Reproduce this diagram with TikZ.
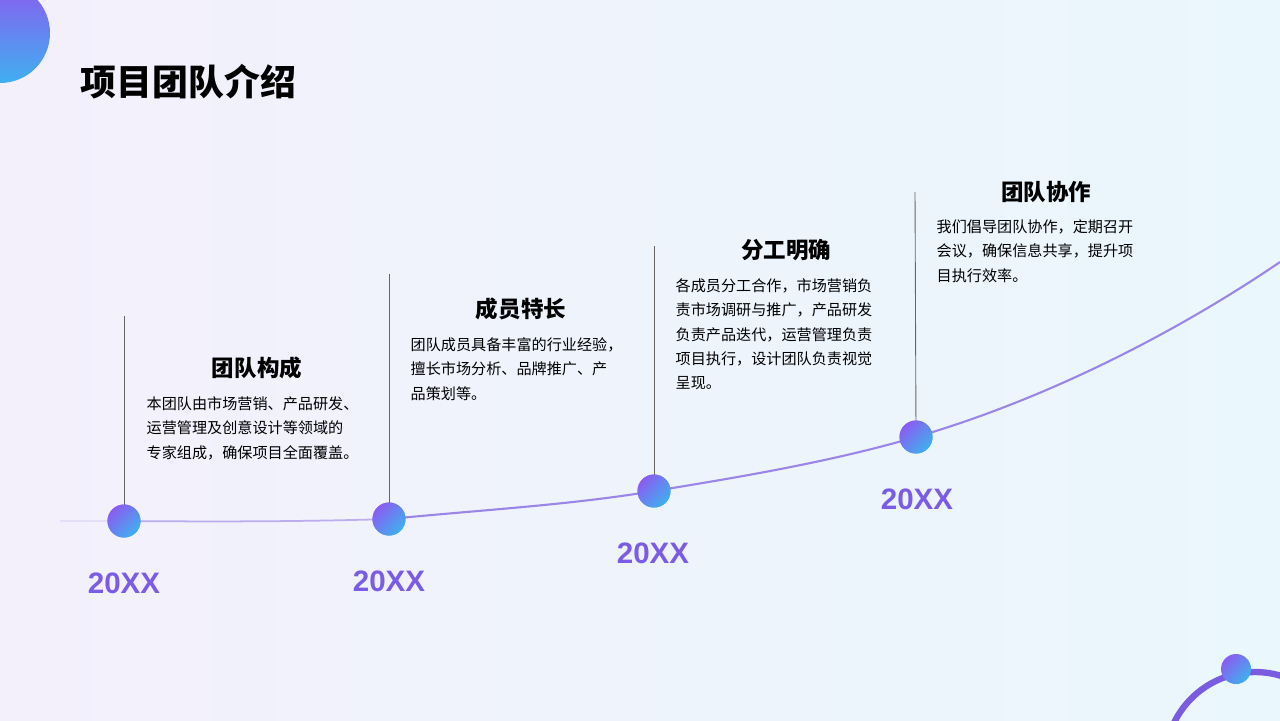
\documentclass[tikz,border=0pt]{standalone}
\usepackage{fontspec}
\setmainfont{Noto Sans CJK SC}
\newfontfamily\yearfont{Liberation Sans}
\begin{document}
\begin{tikzpicture}[x=0.01cm,y=-0.01cm,
  head/.style={font=\bfseries\fontsize{6.4pt}{7pt}\selectfont,anchor=center},
  body/.style={font=\fontsize{4.3pt}{6.9pt}\selectfont,anchor=north west,align=left,inner sep=0pt},
  yr/.style={font=\yearfont\bfseries\fontsize{8.4pt}{9pt}\selectfont,text=yrc},
  dot/.style={circle,minimum size=0.33cm,inner sep=0pt,left color=dotp,right color=dotb,shading angle=45},
  stem/.style={draw=black!60,line width=0.25pt}]
\definecolor{yrc}{HTML}{7B5CE6}
\definecolor{dotp}{HTML}{8A5CF0}
\definecolor{dotb}{HTML}{3FB0F0}
\definecolor{curve}{HTML}{7A5CE0}
\useasboundingbox (0,0) rectangle (1280,720);
\shade[left color={rgb,255:red,243;green,240;blue,252},right color={rgb,255:red,234;green,247;blue,252}] (0,0) rectangle (1280,720);
\begin{scope}
\clip (0,0) rectangle (1280,720);
\shade[top color=dotp,bottom color=dotb] (0,33) circle[radius=50];
\draw[curve,line width=1.8pt] (1255,762) circle[radius=90];
\end{scope}
\node[font=\bfseries\fontsize{10.2pt}{11pt}\selectfont,anchor=west,inner sep=0pt] (title) at (80,82) {项目团队介绍};
% curve
\draw[curve!20,line width=0.5pt] (60,521) -- (124,521);
\draw[curve!50,line width=0.5pt] (124,521) .. controls (250,522) and (320,521) .. (389,519);
\draw[curve!75,line width=0.6pt] (389,519) .. controls (480,510) and (570,505) .. (654,491) .. controls (740,477) and (830,462) .. (916,437) .. controls (1050,398) and (1180,330) .. (1280,262);
% stems, dots
\coordinate (t1) at (124,316); \coordinate (t2) at (389,274); \coordinate (t3) at (654,246); \coordinate (t4) at (915,192);
\node[dot] (d1) at (124,521) {};
\node[dot] (d2) at (389,519) {};
\node[dot] (d3) at (654,491) {};
\node[dot] (d4) at (916,437) {};
\draw[stem] (t1) -- (d1.center); \draw[stem] (t2) -- (d2.center); \draw[stem] (t3) -- (d3.center); \draw[stem] (t4) -- (d4.center);
\node[dot] at (124,521) {}; \node[dot] at (389,519) {}; \node[dot] at (654,491) {}; \node[dot] at (916,437) {};
% years
\node[yr] (y1) at (124,583) {20XX};
\node[yr] (y2) at (389,581) {20XX};
\node[yr] (y3) at (653,553) {20XX};
\node[yr] (y4) at (917,499) {20XX};
% headings
\node[head] (h1) at (257,368) {团队构成};
\node[head] (h2) at (521,309) {成员特长};
\node[head] (h3) at (786,250) {分工明确};
\node[head] (h4) at (1046,192) {团队协作};
% bodies
\node[body] (b1) at (146,396) {本团队由市场营销、产品研发、\\运营管理及创意设计等领域的\\专家组成，确保项目全面覆盖。};
\node[body] (b2) at (410,337) {团队成员具备丰富的行业经验，\\擅长市场分析、品牌推广、产\\品策划等。};
\node[body] (b3) at (675,278) {各成员分工合作，市场营销负\\责市场调研与推广，产品研发\\负责产品迭代，运营管理负责\\项目执行，设计团队负责视觉\\呈现。};
\node[body] (b4) at (936,219) {我们倡导团队协作，定期召开\\会议，确保信息共享，提升项\\目执行效率。};
\node[dot,minimum size=0.3cm] (sd) at (1236,669) {};
\end{tikzpicture}
\end{document}
